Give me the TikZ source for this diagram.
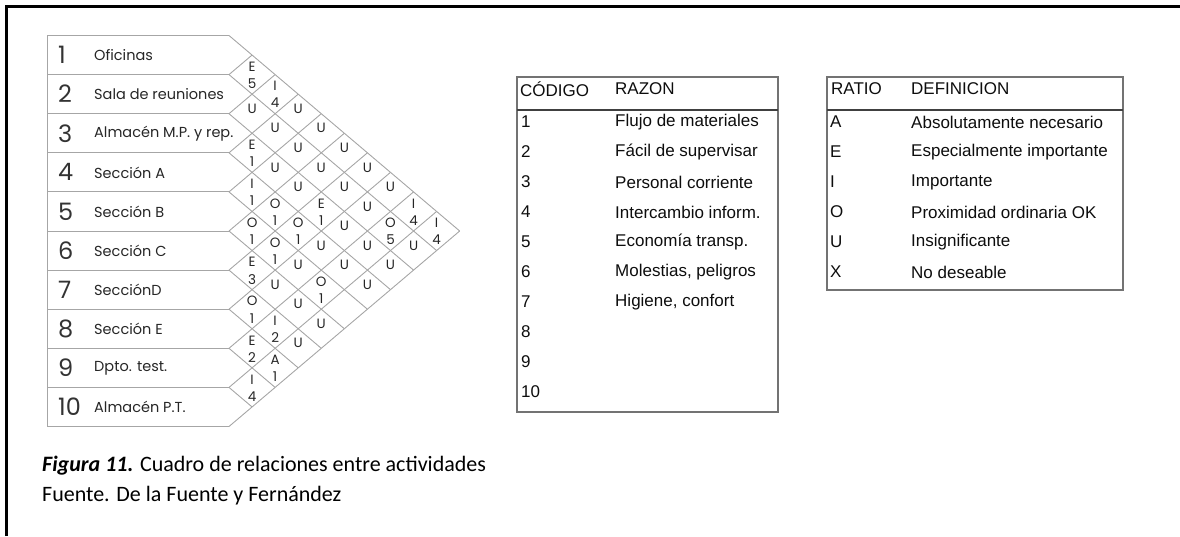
\documentclass[tikz,border=0pt]{standalone}
\usepackage{fontspec}
\newfontfamily\chartfont{Poppins}
\newfontfamily\tblfont{Liberation Sans}
\newfontfamily\capfont{Carlito}
\tikzset{
 gridline/.style={draw=black!35, line width=0.9pt},
 rowlbl/.style={anchor=west, font=\chartfont\fontsize{14.5}{16}\selectfont, text=black!85, inner sep=0},
 rownum/.style={anchor=west, font=\chartfont\fontsize{24}{26}\selectfont, text=black!80, inner sep=0},
 rel/.style={font=\chartfont\fontsize{13.5}{14}\selectfont, text=black!85, inner sep=0},
 tbltxt/.style={anchor=west, font=\tblfont\fontsize{17}{20}\selectfont, inner sep=0, text=black!95},
 tblbox/.style={draw=black!55, line width=1.1pt},
 tblsep/.style={draw=black!75, line width=2.8pt},
 captxt/.style={anchor=west, font=\capfont\fontsize{22}{26}\selectfont, inner sep=0},
 framel/.style={draw=black, line width=2.6pt},
}
\begin{document}
\begin{tikzpicture}[x=1pt,y=-1pt]
\useasboundingbox (0,0) rectangle (1180,536);
% outer frame (top and left)
\coordinate (FB) at (6.5,536);
\coordinate (FC) at (6.5,6.5);
\coordinate (FR) at (1180,6.5);
\draw[framel] (FB) -- (FC) -- (FR);

% ---- relationship chart ----
\foreach \k in {0,...,10}{
  \pgfmathsetmacro\yk{35.5+39.1*\k}
  \pgfmathsetmacro\xd{229+1.18*(426.5-\yk)/2}
  \pgfmathsetmacro\yd{(\yk+426.5)/2}
  \pgfmathsetmacro\xu{229+1.18*(\yk-35.5)/2}
  \pgfmathsetmacro\yu{(\yk+35.5)/2}
  \coordinate (L\k) at (47,\yk);
  \coordinate (P\k) at (229,\yk);
  \coordinate (D\k) at (\xd,\yd);
  \coordinate (U\k) at (\xu,\yu);
  \draw[gridline] (L\k) -- (P\k);
  \draw[gridline] (P\k) -- (D\k);
  \draw[gridline] (P\k) -- (U\k);
}
\draw[gridline] (L0) -- (L10);

% row labels
\foreach \i/\t in {1/Oficinas,2/Sala de reuniones,3/Almacén M.P. y rep.,4/Sección A,5/Sección B,6/Sección C,7/SecciónD,8/Sección E,9/Dpto. test.,10/Almacén P.T.}{
  \pgfmathsetmacro\ym{55.05+39.1*(\i-1)}
  \node[rownum] (n\i) at (58,\ym) {\i};
  \node[rowlbl] (t\i) at (94,\ym) {\t};
}

% relations with reason number
\foreach \i/\j/\r/\n in {1/2/E/5,3/4/E/1,4/5/I/1,5/6/O/1,6/7/E/3,7/8/O/1,8/9/E/2,9/10/I/4,
  1/3/I/4,4/6/O/1,5/7/O/1,7/9/I/2,8/10/A/1,4/7/O/1,3/7/E/1,5/9/O/1,2/9/O/5,1/9/I/4,1/10/I/4}{
  \pgfmathsetmacro\cx{229+(\j-\i)*23.07}
  \pgfmathsetmacro\cy{55.05+39.1*(\i-1)+19.55*(\j-\i)}
  \node[rel] (r\i-\j) at (\cx,\cy-8) {\r};
  \node[rel] (m\i-\j) at (\cx,\cy+9) {\n};
}
% insignificant relations
\foreach \i/\j in {2/3,2/4,3/5,6/8,1/4,2/5,3/6,5/8,6/9,7/10,1/5,2/6,4/8,6/10,1/6,2/7,3/8,4/9,1/7,2/8,3/9,4/10,1/8,3/10,2/10}{
  \pgfmathsetmacro\cx{229+(\j-\i)*23.07}
  \pgfmathsetmacro\cy{55.05+39.1*(\i-1)+19.55*(\j-\i)}
  \node[rel] (r\i-\j) at (\cx,\cy-5) {U};
}

% ---- table 1 ----
\coordinate (T1a) at (517,77);
\coordinate (T1b) at (778,412);
\draw[tblbox] (T1a) rectangle (T1b);
\coordinate (S1a) at (517,110);
\coordinate (S1b) at (778,110);
\draw[tblsep] (S1a) -- (S1b);
\node[tbltxt] (h1a) at (520,89) {CÓDIGO};
\node[tbltxt] (h1b) at (615,89) {RAZON};
\foreach \i/\t in {1/Flujo de materiales,2/Fácil de supervisar,3/Personal corriente,4/Intercambio inform.,5/Economía transp.,6/{Molestias, peligros},7/{Higiene, confort},8/{},9/{},10/{}}{
  \pgfmathsetmacro\yy{122+30*(\i-1)}
  \node[tbltxt] (c\i) at (521,\yy) {\i};
  \node[tbltxt] (z\i) at (615,\yy) {\t};
}

% ---- table 2 ----
\coordinate (T2a) at (827,77);
\coordinate (T2b) at (1123,290);
\draw[tblbox] (T2a) rectangle (T2b);
\coordinate (S2a) at (827,110);
\coordinate (S2b) at (1123,110);
\draw[tblsep] (S2a) -- (S2b);
\node[tbltxt] (h2a) at (831,89) {RATIO};
\node[tbltxt] (h2b) at (911,89) {DEFINICION};
\foreach \k/\l/\t in {1/A/Absolutamente necesario,2/E/Especialmente importante,3/I/Importante,4/O/Proximidad ordinaria OK,5/U/Insignificante,6/X/No deseable}{
  \pgfmathsetmacro\yy{122+30*(\k-1)}
  \node[tbltxt] (g\k) at (830,\yy) {\l};
  \node[tbltxt] (d\k) at (911,\yy) {\t};
}

% ---- caption ----
\node[captxt] (cap1) at (42,466) {\textbf{\textit{Figura 11.}} Cuadro de relaciones entre actividades};
\node[captxt] (cap2) at (42,496) {Fuente. De la Fuente y Fernández};
\end{tikzpicture}
\end{document}
